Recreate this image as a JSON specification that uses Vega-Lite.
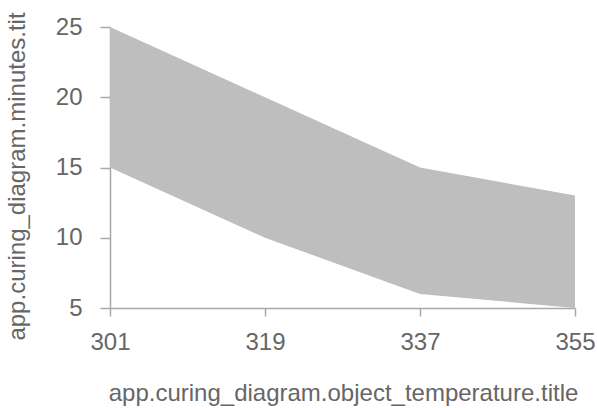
{
  "$schema": "https://vega.github.io/schema/vega-lite/v6.json",
  "autosize": "none",
  "width": 465,
  "height": 281,
  "padding": {"left": 110, "top": 27, "right": 22, "bottom": 100},
  "background": "white",
  "config": {
    "view": {"stroke": null},
    "font": "Liberation Sans",
    "axis": {
      "domainColor": "#a8a8a8",
      "tickColor": "#a8a8a8",
      "domainWidth": 1.5,
      "tickWidth": 1.5,
      "grid": false,
      "labelColor": "#666666",
      "titleColor": "#666666",
      "labelFont": "Liberation Sans",
      "titleFont": "Liberation Sans",
      "labelFontSize": 24,
      "titleFontSize": 24,
      "titleFontWeight": "normal"
    }
  },
  "data": {
    "values": [
      {"temperature": 301, "low": 15, "high": 25},
      {"temperature": 319, "low": 10, "high": 20},
      {"temperature": 337, "low": 6, "high": 15},
      {"temperature": 355, "low": 5, "high": 13}
    ]
  },
  "mark": {"type": "area", "color": "#bebebe", "opacity": 1},
  "encoding": {
    "x": {
      "field": "temperature",
      "type": "quantitative",
      "scale": {"domain": [301, 355], "nice": false, "zero": false},
      "axis": {
        "title": "app.curing_diagram.object_temperature.title",
        "values": [301, 319, 337, 355],
        "tickSize": 8,
        "labelPadding": 14,
        "labelFlush": false,
        "titleX": 233,
        "titleY": 92,
        "titleBaseline": "alphabetic",
        "titleAlign": "center"
      }
    },
    "y": {
      "field": "low",
      "type": "quantitative",
      "scale": {"domain": [5, 25], "nice": false, "zero": false},
      "axis": {
        "title": "app.curing_diagram.minutes.tit",
        "values": [5, 10, 15, 20, 25],
        "tickSize": 10,
        "labelPadding": 18,
        "labelFlush": false,
        "titleX": -86,
        "titleY": 149,
        "titleAngle": -90,
        "titleBaseline": "alphabetic",
        "titleAlign": "center"
      }
    },
    "y2": {"field": "high"}
  }
}
